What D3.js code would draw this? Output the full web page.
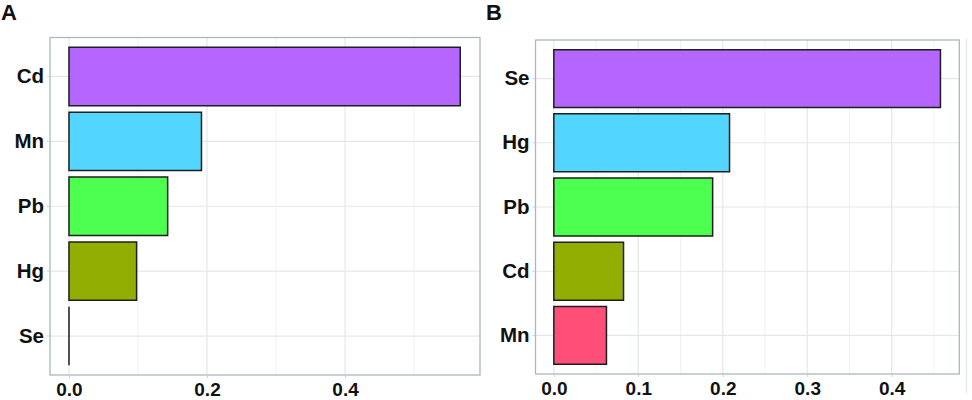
<!DOCTYPE html>
<html>
<head>
<meta charset="utf-8">
<script src="https://cdn.jsdelivr.net/npm/d3@7"></script>
<style>
  html, body { margin: 0; padding: 0; background: #ffffff; }
  svg { display: block; }
</style>
</head>
<body>
<svg id="chart" width="972" height="400"></svg>
<script>
// ---- Data ----
const categoriesA = ["Cd", "Mn", "Pb", "Hg", "Se"];
const valuesA = [0.567, 0.192, 0.143, 0.098, 0.0];
const colorsA = ["#B466FF", "#52D5FF", "#4DFF4F", "#93AE03", "#FF4F79"];

const categoriesB = ["Se", "Hg", "Pb", "Cd", "Mn"];
const valuesB = [0.4577, 0.208, 0.188, 0.0825, 0.0623];
const colorsB = ["#B466FF", "#52D5FF", "#4DFF4F", "#93AE03", "#FF4F79"];

const ticksA = [0.0, 0.2, 0.4];
const minorA = [0.1, 0.3, 0.5];
const ticksB = [0.0, 0.1, 0.2, 0.3, 0.4];
const minorB = [0.05, 0.15, 0.25, 0.35, 0.45];

const svg = d3.select("#chart");
const FONT = "'Liberation Sans', Arial, Helvetica, sans-serif";

function panel(opts) {
  const { left, right, top, bottom, domain, cats, vals, cols, ticks, minor, title, titleX } = opts;
  const g = svg.append("g");
  const x = d3.scaleLinear().domain(domain).range([left, right]);
  const y = d3.scaleBand().domain(cats).range([top, bottom]).paddingInner(0.1).paddingOuter(0.15);

  // grid
  g.selectAll("line.minor").data(minor).join("line")
    .attr("x1", d => x(d)).attr("x2", d => x(d))
    .attr("y1", top).attr("y2", bottom)
    .attr("stroke", "#EEF1F3").attr("stroke-width", 1);
  g.selectAll("line.major").data(ticks).join("line")
    .attr("x1", d => x(d)).attr("x2", d => x(d))
    .attr("y1", top).attr("y2", bottom)
    .attr("stroke", "#E3E8EB").attr("stroke-width", 1.2);
  g.selectAll("line.hgrid").data(cats).join("line")
    .attr("x1", left).attr("x2", right)
    .attr("y1", d => y(d) + y.bandwidth() / 2).attr("y2", d => y(d) + y.bandwidth() / 2)
    .attr("stroke", "#E3E8EB").attr("stroke-width", 1.2);

  // bars (path so zero-width bars still show their outline)
  g.selectAll("path.bar").data(cats).join("path")
    .attr("d", (d, i) => {
      const x0 = x(0), x1 = x(vals[i]), y0 = y(d), y1 = y(d) + y.bandwidth();
      return `M${x0},${y0}H${x1}V${y1}H${x0}Z`;
    })
    .attr("fill", (d, i) => cols[i])
    .attr("stroke", "#1E1E1E").attr("stroke-width", 1.5);

  // border
  g.append("rect").attr("x", left).attr("y", top)
    .attr("width", right - left).attr("height", bottom - top)
    .attr("fill", "none").attr("stroke", "#A9B7BF").attr("stroke-width", 1.3);

  // y axis
  const ya = d3.axisLeft(y).tickSize(3).tickPadding(3);
  const yg = g.append("g").attr("transform", `translate(${left},0)`).call(ya);
  yg.select(".domain").remove();
  yg.selectAll(".tick line").attr("stroke", "#C8D0D4");
  yg.selectAll(".tick text").attr("font-family", FONT).attr("font-weight", "bold")
    .attr("font-size", 20.5).attr("fill", "#111");

  // x axis
  const xa = d3.axisBottom(x).tickValues(ticks).tickFormat(d3.format(".1f")).tickSize(3).tickPadding(5);
  const xg = g.append("g").attr("transform", `translate(0,${bottom})`).call(xa);
  xg.select(".domain").remove();
  xg.selectAll(".tick line").attr("stroke", "#C8D0D4");
  xg.selectAll(".tick text").attr("font-family", FONT).attr("font-weight", "bold")
    .attr("font-size", 19).attr("fill", "#111");

  // title
  svg.append("text").attr("x", titleX).attr("y", 20).text(title)
    .attr("font-family", FONT).attr("font-weight", "bold").attr("font-size", 22).attr("fill", "#111");
}

panel({ left: 50, right: 480, top: 37.5, bottom: 375, domain: [-0.0275, 0.5956],
  cats: categoriesA, vals: valuesA, cols: colorsA, ticks: ticksA, minor: minorA, title: "A", titleX: 1 });
panel({ left: 535.5, right: 959.3, top: 40, bottom: 374, domain: [-0.0217, 0.480],
  cats: categoriesB, vals: valuesB, cols: colorsB, ticks: ticksB, minor: minorB, title: "B", titleX: 486 });

// faint frame line at far right
svg.append("line").attr("x1", 966.5).attr("x2", 966.5).attr("y1", 38).attr("y2", 393)
  .attr("stroke", "#E6ECEF").attr("stroke-width", 1.5);
</script>
</body>
</html>
